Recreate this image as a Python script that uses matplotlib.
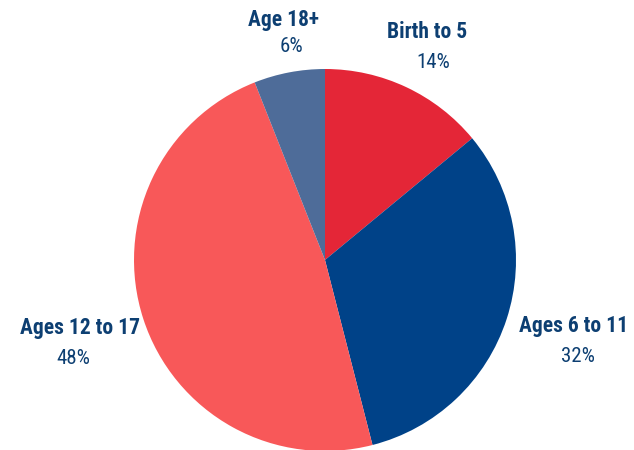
import matplotlib
matplotlib.use("Agg")
import matplotlib.pyplot as plt
from matplotlib import font_manager as fm

categories = ["Birth to 5", "Ages 6 to 11", "Ages 12 to 17", "Age 18+"]
values = [14, 32, 48, 6]
colors = ["#E42637", "#004288", "#F85859", "#4E6C99"]

cond = [f for f in fm.fontManager.ttflist
        if ("Narrow" in f.name or "Condensed" in f.name
            or str(f.stretch) in ("condensed", "semi-condensed", "75", "87"))]
fam = "Roboto"
stretch = "normal"
for pref in ["Roboto", "Liberation Sans", "DejaVu Sans"]:
    hits = [f for f in cond if f.name.startswith(pref)]
    if hits:
        fam = hits[0].name
        stretch = "condensed"
        break

H = 450
fig = plt.figure(figsize=(6.34, 4.5), dpi=100)
ax = fig.add_axes([0, 0, 1, 1])
ax.pie(values, colors=colors, startangle=90, counterclock=False,
       center=(325, H - 260), radius=191, frame=True,
       wedgeprops=dict(linewidth=0))
ax.set_xlim(0, 634)
ax.set_ylim(0, H)
ax.set_aspect("equal")
ax.axis("off")

txt = "#0D3F72"
label_pos = {"Birth to 5": (427, 32), "Ages 6 to 11": (574, 326),
             "Ages 12 to 17": (80, 328), "Age 18+": (284, 20)}
pct_pos = {"Birth to 5": (433, 63), "Ages 6 to 11": (578, 357),
           "Ages 12 to 17": (73, 358), "Age 18+": (291, 47)}
for c, v in zip(categories, values):
    x, y = label_pos[c]
    ax.text(x, H - y, c, ha="center", va="center", fontsize=15.5, fontweight="bold",
            color=txt, family=fam, fontstretch=stretch)
    x, y = pct_pos[c]
    ax.text(x, H - y, f"{v}%", ha="center", va="center", fontsize=15,
            color=txt, family=fam, fontstretch=stretch)

fig.savefig("out.png", dpi=100)
